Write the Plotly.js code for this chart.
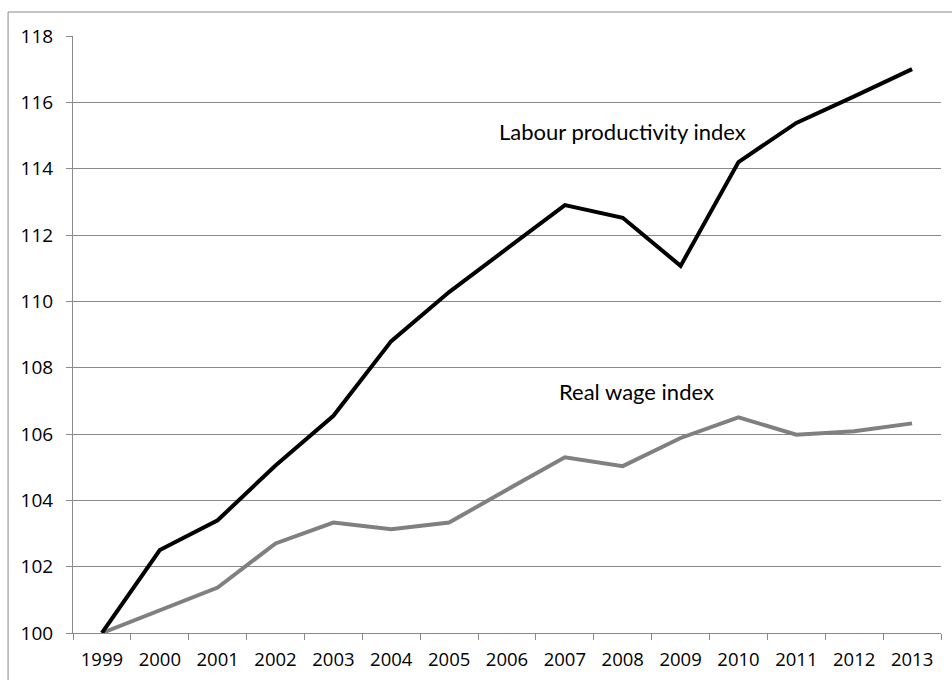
<!DOCTYPE html>
<html>
<head>
<meta charset="utf-8">
<script src="https://cdn.plot.ly/plotly-3.0.1.min.js"></script>
<style>
  html, body { margin: 0; padding: 0; background: #ffffff; }
  #chart { width: 952px; height: 680px; }
</style>
</head>
<body>
<div id="chart"></div>
<script>
const years = ["1999","2000","2001","2002","2003","2004","2005","2006","2007","2008","2009","2010","2011","2012","2013"];
const labourProductivity = [100, 102.5, 103.4, 105.05, 106.55, 108.8, 110.28, 111.6, 112.9, 112.52, 111.07, 114.2, 115.38, 116.18, 117.0];
const realWage = [100, 100.68, 101.37, 102.7, 103.33, 103.13, 103.33, 104.32, 105.3, 105.03, 105.88, 106.5, 105.98, 106.08, 106.32];
const yTicks = [100, 102, 104, 106, 108, 110, 112, 114, 116, 118];

const TICKFONT = "'Open Sans', 'Noto Sans', Arial, sans-serif";
const LABELFONT = "Lato, 'Open Sans', Arial, sans-serif";
const GRID = "#8a8a8a";

const traces = [
  { x: years, y: realWage, type: "scatter", mode: "lines", name: "Real wage index",
    line: { color: "#808080", width: 4 }, hoverinfo: "x+y" },
  { x: years, y: labourProductivity, type: "scatter", mode: "lines", name: "Labour productivity index",
    line: { color: "#000000", width: 4 }, hoverinfo: "x+y" }
];

const layout = {
  width: 952, height: 680,
  margin: { l: 73, r: 11, t: 36, b: 47, pad: 0 },
  paper_bgcolor: "#ffffff", plot_bgcolor: "#ffffff",
  showlegend: false,
  font: { family: TICKFONT, size: 18, color: "#000000" },
  xaxis: {
    type: "category", tickson: "boundaries", range: [-0.5, 14.5],
    showgrid: false, zeroline: false,
    showline: true, linecolor: GRID, linewidth: 1,
    ticks: "outside", ticklen: 6, tickcolor: GRID, tickwidth: 1,
    ticklabelstandoff: 10,
    tickfont: { family: TICKFONT, size: 18.5, color: "#000000" }
  },
  yaxis: {
    range: [100, 118], tickvals: yTicks, ticktext: yTicks.map(String),
    showgrid: true, gridcolor: GRID, gridwidth: 1, zeroline: false,
    showline: true, linecolor: GRID, linewidth: 1,
    ticks: "outside", ticklen: 6, tickcolor: GRID, tickwidth: 1,
    ticklabelstandoff: 9,
    tickfont: { family: TICKFONT, size: 19, color: "#000000" }
  },
  annotations: [
    { text: "Labour productivity index", xref: "paper", yref: "y", x: 0.489, y: 115.12,
      xanchor: "left", yanchor: "middle", showarrow: false,
      font: { family: LABELFONT, size: 22, color: "#000000" } },
    { text: "Real wage index", xref: "paper", yref: "y", x: 0.558, y: 107.28,
      xanchor: "left", yanchor: "middle", showarrow: false,
      font: { family: LABELFONT, size: 22, color: "#000000" } }
  ],
  shapes: [
    { type: "rect", xref: "paper", yref: "paper", x0: -0.0748, x1: 1.3, y0: -0.3, y1: 1.0402,
      line: { color: GRID, width: 1 }, fillcolor: "rgba(0,0,0,0)", layer: "below" }
  ]
};

Plotly.newPlot("chart", traces, layout, { displayModeBar: false, staticPlot: true });
</script>
</body>
</html>
